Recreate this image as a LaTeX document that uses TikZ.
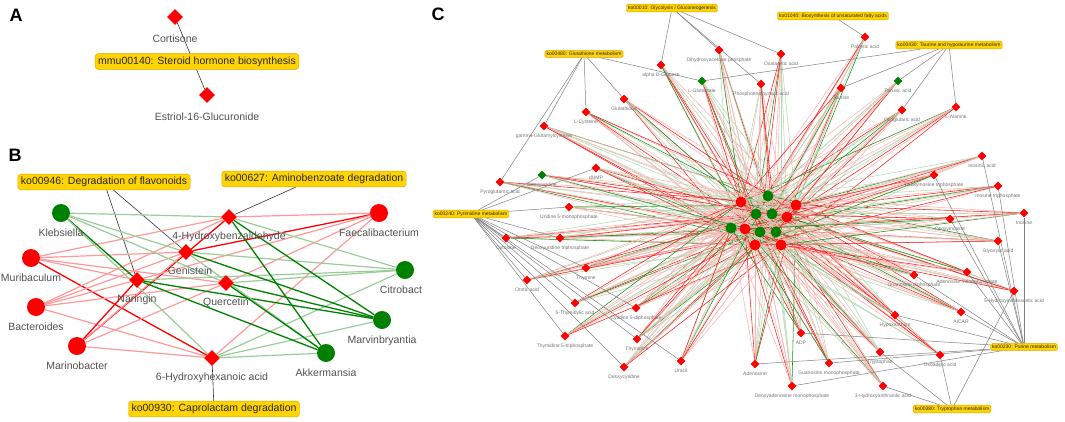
\documentclass[tikz,border=0pt]{standalone}
\usepackage{fontspec}
\setmainfont{Liberation Sans}
\usetikzlibrary{shapes.geometric,backgrounds}

\definecolor{pathyellow}{RGB}{255,212,0}
\definecolor{pathrim}{RGB}{214,168,0}
\definecolor{upred}{RGB}{255,0,0}
\definecolor{downgreen}{RGB}{0,128,0}
\definecolor{labgray}{RGB}{80,80,80}

\tikzset{
  panel/.style={font=\fontsize{18}{20}\selectfont\bfseries},
  pathbox/.style={draw=pathrim, fill=pathyellow, rounded corners=3pt, inner sep=3pt,
    font=\fontsize{10.5}{12}\selectfont, text=black!85},
  pathboxc/.style={draw=pathrim, fill=pathyellow, rounded corners=1.5pt, inner sep=1.6pt,
    font=\fontsize{5}{6}\selectfont, text=black!85},
  metb/.style={diamond, aspect=1, fill=upred, minimum size=16pt, inner sep=0pt},
  bacb/.style={circle, minimum size=18pt, inner sep=0pt},
  metc/.style={diamond, aspect=1, fill=upred, minimum size=9pt, inner sep=0pt},
  bacc/.style={circle, minimum size=11pt, inner sep=0pt},
  laba/.style={font=\fontsize{10.5}{12}\selectfont, text=labgray, inner sep=0pt, yshift=-9pt},
  labb/.style={font=\fontsize{10.5}{12}\selectfont, text=labgray, inner sep=0pt, yshift=-6pt},
  labc/.style={font=\fontsize{5}{6}\selectfont, text=labgray!80, inner sep=0pt, yshift=-3pt},
  pathline/.style={black!80, line width=0.6pt},
  pathlinec/.style={black!50, line width=0.5pt},
  redhi/.style={upred, line width=1.3pt},
  redlo/.style={upred!40, line width=1.2pt},
  grnhi/.style={downgreen, line width=1.3pt},
  grnlo/.style={downgreen!40, line width=1.2pt},
  redhic/.style={upred!90, line width=0.55pt},
  redloc/.style={upred!30, line width=0.55pt},
  grnhic/.style={downgreen!90, line width=0.55pt},
  grnloc/.style={downgreen!30, line width=0.55pt}
}

\begin{document}
\begin{tikzpicture}[x=1pt, y=-1pt]
\useasboundingbox (0,0) rectangle (1065,421);

\node[panel] (pa) at (16,15) {A};
\node[panel] (pb) at (15,155) {B};
\node[panel] (pc) at (438,14) {C};

% panel A
\node[metb, label={[laba]below:Cortisone}] (cort) at (175,17) {};
\node[metb, label={[laba]below:Estriol-16-Glucuronide}] (estr) at (207,95) {};
\node[pathbox] (mmu) at (197,61.5) {mmu00140: Steroid hormone biosynthesis};

% panel B
\node[pathbox] (flav) at (104,182) {ko00946: Degradation of flavonoids};
\node[pathbox] (amin) at (314,179) {ko00627: Aminobenzoate degradation};
\node[pathbox] (capr) at (214,409) {ko00930: Caprolactam degradation};

\node[metb, label={[labb]below:4-Hydroxybenzaldehyde}] (hba) at (229,217) {};
\node[metb, label={[labb, xshift=4pt]below:Genistein}] (gen) at (186,252) {};
\node[metb, label={[labb]below:Naringin}] (nar) at (137,280) {};
\node[metb, label={[labb]below:Quercetin}] (que) at (226,283) {};
\node[metb, label={[labb]below:6-Hydroxyhexanoic acid}] (hha) at (212,358) {};

\node[bacb, fill=downgreen, label={[labb]below:Klebsiella}] (kleb) at (61,213) {};
\node[bacb, fill=upred, label={[labb]below:Muribaculum}] (muri) at (31,258) {};
\node[bacb, fill=upred, label={[labb]below:Bacteroides}] (bact) at (36,307) {};
\node[bacb, fill=upred, label={[labb]below:Marinobacter}] (mari) at (77,346) {};
\node[bacb, fill=upred, label={[labb]below:Faecalibacterium}] (faec) at (379,213) {};
\node[bacb, fill=downgreen, label={[labb, xshift=-4pt]below:Citrobact}] (citr) at (405,270) {};
\node[bacb, fill=downgreen, label={[labb]below:Marvinbryantia}] (marv) at (382,320) {};
\node[bacb, fill=downgreen, label={[labb]below:Akkermansia}] (akke) at (326,353) {};

% panel C
\node[pathboxc] (k10) at (672,8) {ko00010: Glycolysis / Gluconeogenesis};
\node[pathboxc] (k1040) at (833,16) {ko01040: Biosynthesis of unsaturated fatty acids};
\node[pathboxc] (k480) at (584,54) {ko00480: Glutathione metabolism};
\node[pathboxc] (k430) at (949,45) {ko00430: Taurine and hypotaurine metabolism};
\node[pathboxc] (k240) at (471,214) {ko00240: Pyrimidine metabolism};
\node[pathboxc] (k230) at (1024,347) {ko00230: Purine metabolism};
\node[pathboxc] (k380) at (952,409) {ko00380: Tryptophan metabolism};

\foreach \n/\x/\y/\t in {pal/865/37/Palmitic acid, glc/661/65/alpha D-Glucose,
    dhap/719/50/Dihydroxyacetone phosphate, oaa/781/54/Oxalacetic acid,
    pep/761/84/Phosphoenolpyruvic acid, tau/841/88/Taurine, oxg/902/110/Oxoglutaric acid,
    ala/956/107/L-Alanine, gsh/624/99/Glutathione, cys/586/112/L-Cysteine,
    ggc/544/126/gamma-Glutamylcysteine, pglu/500/182/Pyroglutamic acid, dump/596/168/dUMP,
    ump/569/207/Uridine 5-monophosphate, cyt/506/238/Cytosine,
    dutp/560/238/Deoxyuridine triphosphate, thy/586/268/Thymine, oro/527/280/Orotic acid,
    tmp/575/303/5-Thymidylic acid, cdp/636/308/Cytidine 5-diphosphate,
    ttp/565/336/Thymidine 5-triphosphate, thd/637/339/Thymidine, dcyt/624/367/Deoxycytidine,
    ura/681/361/Uracil, ado/755/364/Adenosine, adp/801/333/ADP,
    damp/792/386/Deoxyadenosine monophosphate, gmp/829/363/Guanosine monophosphate,
    haa/883/386/3-Hydroxyanthranilic acid, trp/880/352/Tryptophan, oxad/940/355/Oxoadipic acid,
    hyp/895/315/Hypoxanthine, aicar/961/312/AICAR, hiaa/1014/291/5-Hydroxyindoleacetic acid,
    gdp/914/275/Guanosine diphosphate, amp/967/272/Adenosine monophosphate,
    glx/998/241/Glyoxylic acid, ino/1024/213/Inosine, itp/998/186/Inosine triphosphate,
    imp/982/156/Inosinic acid, ditp/934/175/Deoxyinosine triphosphate, dino/950/219/Deoxyinosine}
  \node[metc, label={[labc]below:\t}] (\n) at (\x,\y) {};
\foreach \n/\x/\y/\t in {glu/702/81/L-Glutamate, pyr/898/81/Pyruvic acid, dur/542/175/Deoxyuridine}
  \node[metc, fill=downgreen, label={[labc]below:\t}] (\n) at (\x,\y) {};

\foreach \n/\x/\y/\c in {rb1/741/202/upred, gb1/768/196/downgreen, rb2/796/205/upred,
    gb2/756/214/downgreen, gb3/772/214/downgreen, rb3/787/217/upred, gb4/731/228/downgreen,
    rb4/745/229/upred, gb5/760/232/downgreen, gb6/776/232/downgreen, rb5/781/245/upred,
    rb6/755/245/upred}
  \node[bacc, fill=\c] (\n) at (\x,\y) {};

\begin{pgfonlayer}{background}
  % pathways
  \draw[pathline] (cort) -- (estr);
  \draw[pathline] (flav) -- (nar);
  \draw[pathline] (flav) -- (gen);
  \draw[pathline] (amin) -- (hba);
  \draw[pathline] (capr) -- (hha);

  % correlations B
  \foreach \b/\m/\s in {muri/hba/redlo, muri/gen/redlo, muri/nar/redlo, muri/que/redlo, muri/hha/redhi,
      bact/hba/redlo, bact/gen/redlo, bact/nar/redlo, bact/que/redlo, bact/hha/redlo,
      mari/hba/redhi, mari/gen/redlo, mari/nar/redhi, mari/que/redlo, mari/hha/redlo,
      faec/hba/redlo, faec/gen/redhi, faec/nar/redlo, faec/que/redlo, faec/hha/redlo,
      kleb/hba/grnlo, kleb/gen/grnlo, kleb/nar/grnhi, kleb/que/grnlo, kleb/hha/grnlo,
      citr/hba/grnlo, citr/gen/grnlo, citr/nar/grnlo, citr/que/grnlo, citr/hha/grnlo,
      marv/hba/grnhi, marv/gen/grnhi, marv/nar/grnhi, marv/que/grnhi, marv/hha/grnlo,
      akke/hba/grnhi, akke/gen/grnlo, akke/nar/grnhi, akke/que/grnhi, akke/hha/grnlo}
    \draw[\s] (\b) -- (\m);

  % correlations C
  \foreach \m [count=\i] in {pal,glc,dhap,oaa,pep,tau,oxg,ala,gsh,cys,ggc,pglu,dump,ump,cyt,
      dutp,thy,oro,tmp,cdp,ttp,thd,dcyt,ura,ado,adp,damp,gmp,haa,trp,oxad,hyp,aicar,hiaa,
      gdp,amp,glx,ino,itp,imp,ditp,dino,glu,pyr,dur} {
    \foreach \b [count=\j] in {rb1,gb1,rb2,gb2,gb3,rb3,gb4,rb4,gb5,gb6,rb5,rb6} {
      \pgfmathtruncatemacro\k{mod(\i*7+\j*5,13)}
      \ifnum\k<4 \draw[redloc] (\m) -- (\b);
      \else\ifnum\k<7 \draw[grnloc] (\m) -- (\b);
      \else\ifnum\k<9 \draw[redhic] (\m) -- (\b);
      \else\ifnum\k<10 \draw[grnhic] (\m) -- (\b);
      \fi\fi\fi\fi
    }
  }

  % pathways C
  \foreach \m in {glc,dhap,oaa,pep} \draw[pathlinec] (k10) -- (\m);
  \draw[pathlinec] (k1040) -- (pal);
  \foreach \m in {ggc,pglu,cys,gsh,glu} \draw[pathlinec] (k480) -- (\m);
  \foreach \m in {tau,pyr,oxg,ala,glu} \draw[pathlinec] (k430) -- (\m);
  \foreach \m in {dur,dump,ump,cyt,dutp,thy,oro,tmp,ttp,dcyt,thd,cdp,ura}
    \draw[pathlinec] (k240) -- (\m);
  \foreach \m in {imp,itp,ino,glx,ditp,dino,amp,gdp,aicar,hyp,adp,ado,gmp,damp}
    \draw[pathlinec] (k230) -- (\m);
  \foreach \m in {haa,trp,oxad,hiaa} \draw[pathlinec] (k380) -- (\m);
\end{pgfonlayer}
\end{tikzpicture}
\end{document}
